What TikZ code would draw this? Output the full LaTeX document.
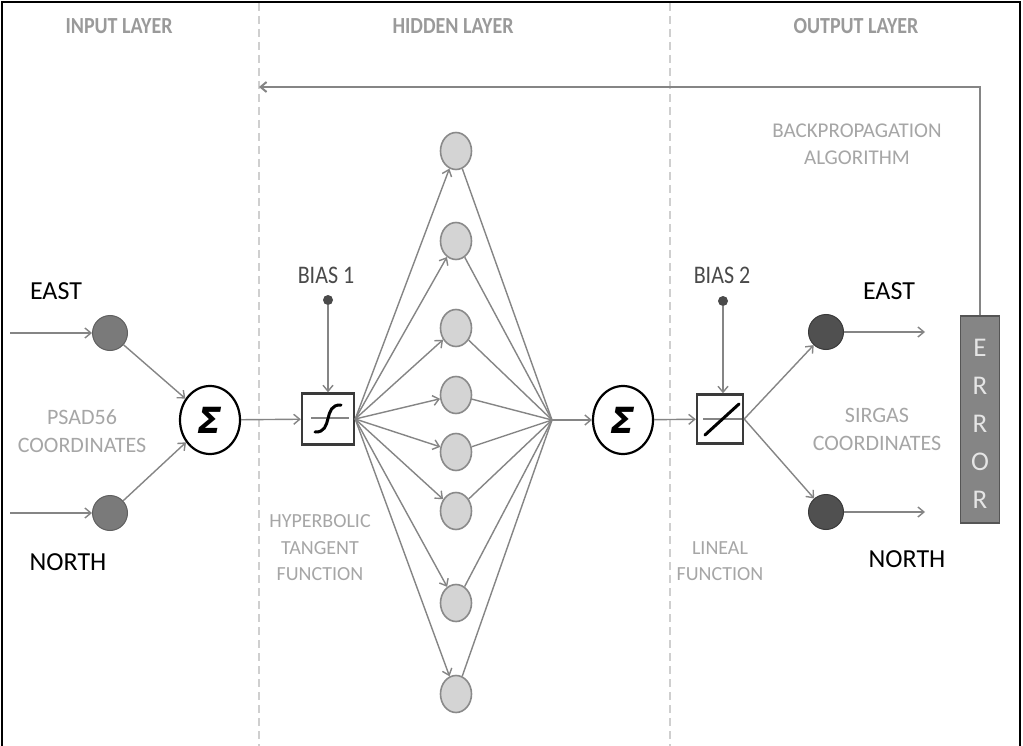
\documentclass[tikz,border=0pt]{standalone}
\usepackage{fontspec}
\usepackage{graphicx}
\setmainfont{Carlito}
\newfontfamily\sigfont{DejaVu Sans Bold Oblique}
\newcommand{\vstretch}[1]{\scalebox{1}[1.15]{#1}}
\usetikzlibrary{arrows.meta,shapes.geometric}
\definecolor{linegray}{HTML}{858585}
\definecolor{hidfill}{HTML}{D4D4D4}
\definecolor{hidborder}{HTML}{8A8A8A}
\definecolor{infill}{HTML}{7A7A7A}
\definecolor{inborder}{HTML}{606060}
\definecolor{outfill}{HTML}{505050}
\definecolor{outborder}{HTML}{3A3A3A}
\definecolor{lblgray}{HTML}{A6A6A6}
\definecolor{titlegray}{HTML}{9A9A9A}
\definecolor{dashgray}{HTML}{CFCFCF}
\definecolor{biasgray}{HTML}{4A4A4A}
\definecolor{errfill}{HTML}{858585}
\definecolor{errborder}{HTML}{555555}
\definecolor{boxc}{HTML}{3A3A3A}
\begin{document}
\begin{tikzpicture}[x=1pt,y=-1pt,
  conn/.style={draw=linegray, line width=1.4pt},
  arr/.style={conn, -{Straight Barb[length=6pt,width=10pt]}},
  inneur/.style={circle, draw=inborder, fill=infill, line width=1pt, minimum size=35pt, inner sep=0pt},
  outneur/.style={circle, draw=outborder, fill=outfill, line width=1pt, minimum size=35pt, inner sep=0pt},
  hid/.style={ellipse, draw=hidborder, fill=hidfill, line width=1.6pt, minimum width=31pt, minimum height=37pt, inner sep=0pt},
  sumnode/.style={ellipse, draw=black, line width=2.2pt, fill=white, minimum width=60pt, minimum height=68pt, inner sep=0pt, font=\sigfont\fontsize{36}{36}\selectfont},
  funcbox/.style={rectangle, draw=boxc, line width=2.4pt, fill=white, inner sep=0pt},
  lbl/.style={text=lblgray, font=\fontsize{20}{26.5}\selectfont, align=center},
  clbl/.style={text=lblgray, font=\fontsize{22}{28}\selectfont, align=center},
  ttl/.style={text=titlegray, font=\fontsize{20}{20}\selectfont\bfseries},
  big/.style={text=black, font=\fontsize{26}{26}\selectfont},
  biaslbl/.style={text=biasgray, font=\fontsize{22}{22}\selectfont},
  biasdot/.style={circle, fill=biasgray, minimum size=10pt, inner sep=0pt},
  dashline/.style={draw=dashgray, line width=1.2pt, dash pattern=on 8pt off 5pt}
]
\useasboundingbox (0,0) rectangle (1023,746);
\fill[white] (0,0) rectangle (1023,746);
% frame
\draw[black, line width=2pt] (2,746) -- (2,2) -- (1020,2) -- (1020,746);
% layer separators
\draw[dashline] (259,3) -- (259,746);
\draw[dashline] (670,3) -- (670,746);
% titles
\node[ttl] (tIn) at (119,26) {\vstretch{INPUT LAYER}};
\node[ttl] (tHid) at (453,26) {\vstretch{HIDDEN LAYER}};
\node[ttl] (tOut) at (856,26) {\vstretch{OUTPUT LAYER}};

% input layer
\node[big] (lEastIn) at (56,291) {EAST};
\node[big] (lNorthIn) at (68,562) {NORTH};
\node[inneur] (inE) at (110,333) {};
\node[inneur] (inN) at (110,513) {};
\coordinate (inE0) at (10,333);
\coordinate (inN0) at (10,513);
\draw[arr] (inE0) -- (inE);
\draw[arr] (inN0) -- (inN);
\node[clbl] (psad) at (82,431) {PSAD56\\COORDINATES};
\node[sumnode] (sum1) at (210,420) {Σ};
\draw[arr] (inE) -- (sum1);
\draw[arr] (inN) -- (sum1);

% hidden layer
\node[funcbox, minimum width=52pt, minimum height=51pt] (tanh) at (328,419) {};
\draw[linegray, line width=2pt] (311,418) -- (349,418);
\draw[black, line width=3pt, line cap=round] (315,432) .. controls (334,433) and (322,404) .. (341,405);
\node[biasdot] (b1) at (328,300) {};
\node[biaslbl] (lb1) at (326,275) {\vstretch{BIAS 1}};
\draw[arr] (b1) -- (tanh.north);
\draw[arr] (sum1) -- (tanh);
\node[lbl] (lhyp) at (320,548) {HYPERBOLIC\\TANGENT\\FUNCTION};

\node[hid] (h1) at (456,151) {};
\node[hid] (h2) at (456,241) {};
\node[hid] (h3) at (456,328) {};
\node[hid] (h4) at (456,395) {};
\node[hid] (h5) at (456,452) {};
\node[hid] (h6) at (456,511) {};
\node[hid] (h7) at (456,603) {};
\node[hid] (h8) at (456,694) {};
\coordinate (conv) at (552,420);
\foreach \i in {1,...,8} {
  \draw[arr] (tanh.east) -- (h\i);
  \draw[conn] (h\i) -- (conv);
}
\node[sumnode] (sum2) at (623,420) {Σ};
\draw[arr] (conv) -- (sum2);

% output layer
\node[funcbox, minimum width=46pt, minimum height=49pt] (lin) at (720,419) {};
\draw[linegray, line width=2pt] (703,419) -- (742,419);
\draw[black, line width=3pt, line cap=round] (705,435) -- (739,404);
\node[biasdot] (b2) at (723,301) {};
\node[biaslbl] (lb2) at (722,275) {\vstretch{BIAS 2}};
\draw[arr] (b2) -- (lin.north -| b2);
\draw[arr] (sum2) -- (lin);
\node[lbl] (llin) at (720,561) {LINEAL\\FUNCTION};

\node[outneur] (outE) at (826,332) {};
\node[outneur] (outN) at (826,512) {};
\draw[arr] (lin.east) -- (outE);
\draw[arr] (lin.east) -- (outN);
\coordinate (outE1) at (925,332);
\coordinate (outN1) at (925,512);
\draw[arr] (outE) -- (outE1);
\draw[arr] (outN) -- (outN1);
\node[big] (lEastOut) at (889,291) {EAST};
\node[big] (lNorthOut) at (907,559) {NORTH};
\node[clbl] (sirgas) at (877,429) {SIRGAS\\COORDINATES};

\node[rectangle, draw=errborder, fill=errfill, line width=1.5pt, minimum width=39pt, minimum height=207pt, inner sep=0pt] (err) at (980,419.5) {};
\node[text=white!90!black, font=\fontsize{27}{38}\selectfont, align=center] (errtxt) at (980,424) {E\\R\\R\\O\\R};

\coordinate (fbend) at (259,87);
\draw[arr, line width=2pt] (err.north) |- (fbend);
\node[lbl, font=\fontsize{21}{27}\selectfont] (bp) at (857,144) {BACKPROPAGATION\\ALGORITHM};
\end{tikzpicture}
\end{document}
